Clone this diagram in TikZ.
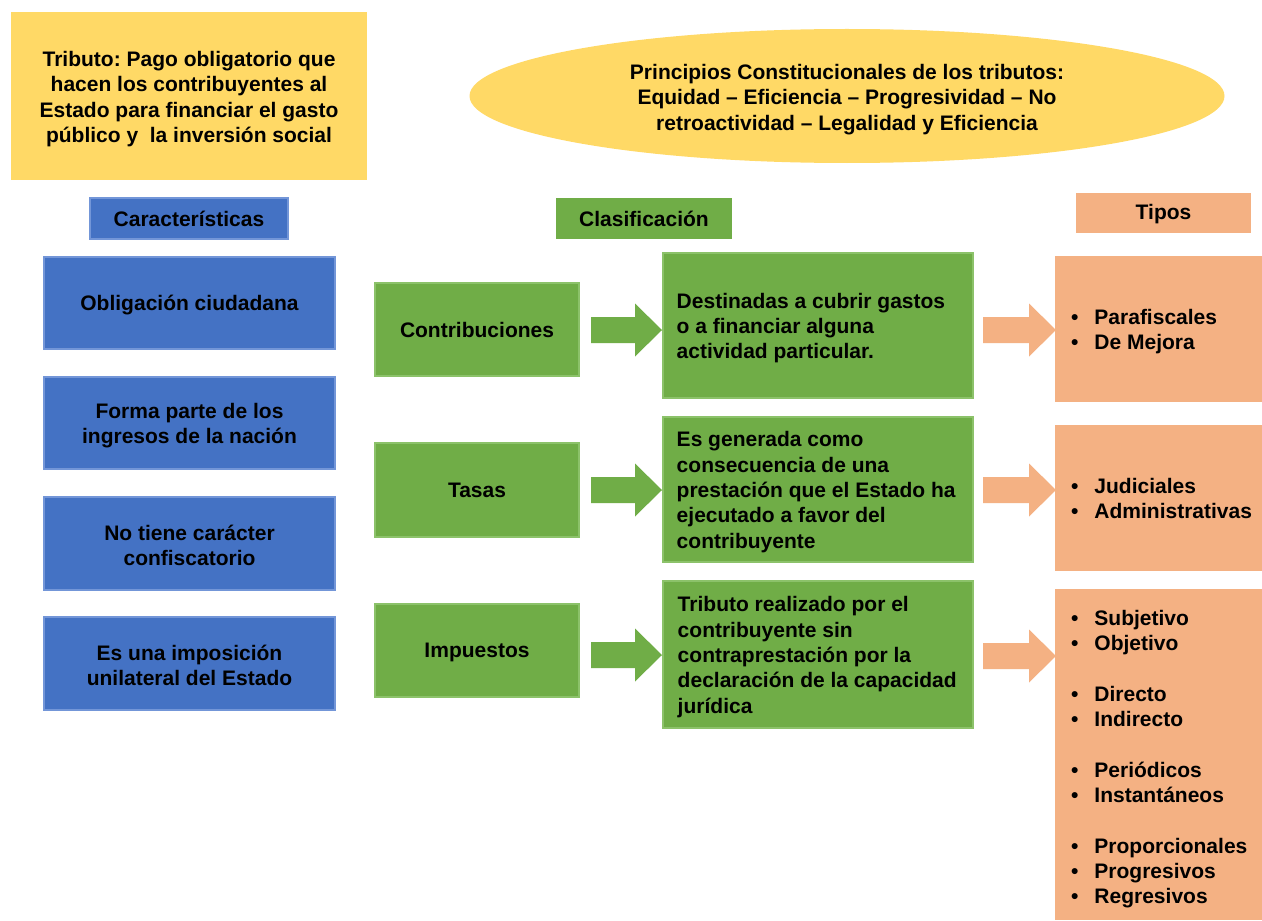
\documentclass[tikz,border=0pt]{standalone}
\usepackage{fontspec}
\setmainfont{Liberation Sans}
\frenchspacing
\usetikzlibrary{shapes.geometric}
\definecolor{cyel}{HTML}{FFD966}
\definecolor{cblue}{HTML}{4472C4}
\definecolor{cblueb}{HTML}{7396D8}
\definecolor{cgreen}{HTML}{70AD47}
\definecolor{cgreenb}{HTML}{8CC26A}
\definecolor{corange}{HTML}{F4B183}
\newcommand\uu{0.75pt}
\newcommand\bul{\makebox[17.6pt][l]{\textbullet}}
\tikzset{
  pics/blockarr/.style 2 args={code={
    \fill[#1] (0,-13) -- (#2-27,-13) -- (#2-27,-26.5) -- (#2,0) -- (#2-27,26.5) -- (#2-27,13) -- (0,13) -- cycle;}},
  sz/.style 2 args={minimum width=#1*\uu, minimum height=#2*\uu},
  ybox/.style={rectangle, fill=cyel},
  yell/.style={ellipse, fill=cyel},
  bhdr/.style={rectangle, fill=cblue, draw=cblueb, line width=1.5pt},
  bluebox/.style={rectangle, fill=cblue, draw=cblueb, line width=1.5pt},
  ghdr/.style={rectangle, fill=cgreen},
  gbox/.style={rectangle, fill=cgreen, draw=cgreenb, line width=0.8pt},
  obox/.style={rectangle, fill=corange},
  ohdr/.style={rectangle, fill=corange},
  ctxt/.style={align=center},
  ltxt/.style={align=left, anchor=west},
}
\begin{document}
\begin{tikzpicture}[x=0.75pt,y=-0.75pt,
  every node/.style={font=\fontsize{15.75}{19}\selectfont\bfseries, text=black, inner sep=0pt}]
\useasboundingbox (0,0) rectangle (1262,920);
\fill[white] (0,0) rectangle (1262,920);

% top
\node[ybox, sz={356}{168}] (trib) at (189,96) {};
\node[ctxt] (tribT) at ([yshift=-3*\uu]trib.center) {Tributo: Pago obligatorio que\\hacen los contribuyentes al\\Estado para financiar el gasto\\público y\ \ la inversión social};
\node[yell, sz={755}{134}] (princ) at (847,96) {};
\node[ctxt] (princT) at ([yshift=-3.5*\uu]princ.center) {Principios Constitucionales de los tributos:\\Equidad – Eficiencia – Progresividad – No\\retroactividad – Legalidad y Eficiencia};

% headers
\node[bhdr, sz={198}{41}] (hcar) at (189,218.5) {};
\node[ctxt] (hcarT) at (hcar.center) {Características};
\node[ghdr, sz={176}{41}] (hcla) at (644,218.5) {};
\node[ctxt] (hclaT) at (hcla.center) {Clasificación};
\node[ohdr, sz={175}{40}] (htip) at (1163.5,213) {};
\node[ctxt] (htipT) at ([yshift=-1.5*\uu]htip.center) {Tipos};

% characteristics
\node[bluebox, sz={291}{92}] (c1) at (189.5,303) {};
\node[ctxt] (c1T) at ([yshift=-2*\uu]c1.center) {Obligación ciudadana};
\node[bluebox, sz={291}{92}] (c2) at (189.5,423) {};
\node[ctxt] (c2T) at ([yshift=-2.5*\uu]c2.center) {Forma parte de los\\ingresos de la nación};
\node[bluebox, sz={291}{93}] (c3) at (189.5,543.5) {};
\node[ctxt] (c3T) at ([yshift=-2*\uu]c3.center) {No tiene carácter\\confiscatorio};
\node[bluebox, sz={291}{93}] (c4) at (189.5,663.5) {};
\node[ctxt] (c4T) at ([yshift=-2*\uu]c4.center) {Es una imposición\\unilateral del Estado};

% classification
\node[gbox, sz={204}{93}] (k1) at (477,329.5) {};
\node[ctxt] (k1T) at ([yshift=-0.5*\uu]k1.center) {Contribuciones};
\node[gbox, sz={204}{94}] (k2) at (477,490) {};
\node[ctxt] (k2T) at ([yshift=-0.5*\uu]k2.center) {Tasas};
\node[gbox, sz={204}{93}] (k3) at (477,650.5) {};
\node[ctxt] (k3T) at ([yshift=-1.5*\uu]k3.center) {Impuestos};

\node[gbox, sz={310}{145}] (d1) at (818,325.5) {};
\node[ltxt] (d1T) at ([xshift=14*\uu, yshift=-2.5*\uu]d1.west) {Destinadas a cubrir gastos\\o a financiar alguna\\actividad particular.};
\node[gbox, sz={310}{145}] (d2) at (818,489.5) {};
\node[ltxt] (d2T) at ([xshift=14*\uu, yshift=-2.5*\uu]d2.west) {Es generada como\\consecuencia de una\\prestación que el Estado ha\\ejecutado a favor del\\contribuyente};
\node[gbox, sz={310}{147}] (d3) at (818,654.5) {};
\node[ltxt] (d3T) at ([xshift=15*\uu, yshift=-2.5*\uu]d3.west) {Tributo realizado por el\\contribuyente sin\\contraprestación por la\\declaración de la capacidad\\jurídica};

% types
\node[obox, sz={207}{146}] (t1) at (1158.5,329) {};
\node[ltxt] (t1T) at ([xshift=16*\uu, yshift=-2.5*\uu]t1.west) {\bul Parafiscales\\\bul De Mejora};
\node[obox, sz={207}{146}] (t2) at (1158.5,498) {};
\node[ltxt] (t2T) at ([xshift=16*\uu, yshift=-0.5*\uu]t2.west) {\bul Judiciales\\\bul Administrativas};
\node[obox, sz={207}{331}] (t3) at (1158.5,754.5) {};
\node[ltxt] (t3T) at ([xshift=16*\uu, yshift=-4.5*\uu]t3.west) {\bul Subjetivo\\\bul Objetivo\\[19pt]\bul Directo\\\bul Indirecto\\[19pt]\bul Periódicos\\\bul Instantáneos\\[19pt]\bul Proporcionales\\\bul Progresivos\\\bul Regresivos};

% block arrows
\pic at (591,330) {blockarr={cgreen}{71}};
\pic at (591,490) {blockarr={cgreen}{71}};
\pic at (591,655) {blockarr={cgreen}{71}};
\pic at (983,330) {blockarr={corange}{73}};
\pic at (983,490) {blockarr={corange}{73}};
\pic at (983,656) {blockarr={corange}{73}};
\end{tikzpicture}
\end{document}
